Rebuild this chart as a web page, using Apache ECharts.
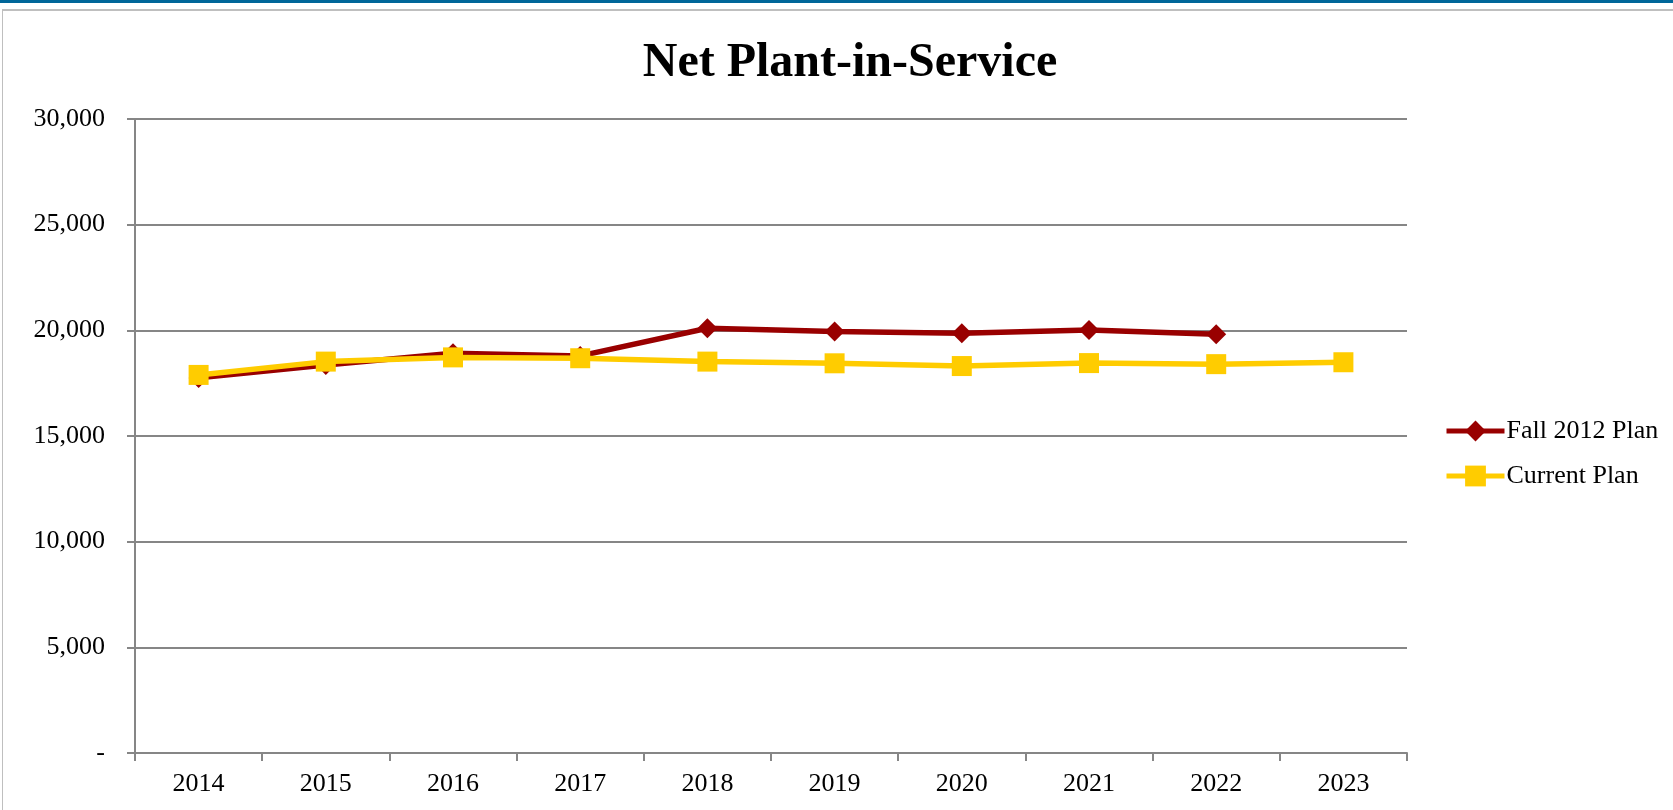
<!DOCTYPE html>
<html><head><meta charset="utf-8">
<script src="https://cdn.jsdelivr.net/npm/echarts@6/dist/echarts.min.js"></script>
<style>html,body{margin:0;padding:0;background:#fff}#c{width:1673px;height:810px}</style>
</head><body><div id="c"></div>
<script>
const categories = ['2014','2015','2016','2017','2018','2019','2020','2021','2022','2023'];
const fall2012 = [17750, 18360, 18920, 18790, 20100, 19940, 19860, 20010, 19810, null];
const current = [17890, 18520, 18720, 18680, 18520, 18440, 18310, 18450, 18400, 18490];
const yTicks = [0, 5000, 10000, 15000, 20000, 25000, 30000];

const chart = echarts.init(document.getElementById('c'));
const font = '"Liberation Serif", "Times New Roman", serif';
chart.setOption({
  animation: false,
  backgroundColor: '#fff',
  graphic: [
    {type:'rect', shape:{x:0,y:0,width:1673,height:3}, style:{fill:'#006699'}},
    {type:'rect', shape:{x:2,y:9,width:1671,height:2}, style:{fill:'#bfbfbf'}},
    {type:'rect', shape:{x:2,y:9,width:1,height:801}, style:{fill:'#bfbfbf'}}
  ],
  title: {
    text: 'Net Plant-in-Service', left: 845, top: 35, textAlign: 'center',
    textStyle: {fontFamily: font, fontSize: 48, fontWeight: 'bold', color: '#000'}
  },
  legend: {
    orient: 'vertical', left: 1439, top: 413, itemGap: 19, itemWidth: 58, itemHeight: 26,
    lineStyle: {width: 5},
    textStyle: {fontFamily: font, fontSize: 26, color: '#000', padding:[0,0,0,-3]},
    data: ['Fall 2012 Plan', 'Current Plan']
  },
  grid: {left: 135, top: 119, right: 266, bottom: 57},
  xAxis: {
    type: 'category', data: categories, boundaryGap: true,
    axisLine: {lineStyle: {color: '#868686', width: 2}},
    axisTick: {show: true, length: 8, lineStyle: {color: '#868686', width: 2}},
    axisLabel: {fontFamily: font, fontSize: 26, color: '#000', margin: 18}
  },
  yAxis: {
    type: 'value', min: 0, max: 30000, interval: 5000,
    axisLine: {show: true, lineStyle: {color: '#868686', width: 2}},
    axisTick: {show: true, length: 8, lineStyle: {color: '#868686', width: 2}},
    splitLine: {lineStyle: {color: '#868686', width: 2}},
    axisLabel: {fontFamily: font, fontSize: 26, color: '#000', margin: 30,
      formatter: v => v === 0 ? '-' : v.toLocaleString('en-US')}
  },
  series: [
    {name: 'Fall 2012 Plan', type: 'line', data: fall2012, symbol: 'diamond', symbolSize: 20,
     lineStyle: {color: '#990000', width: 5.5}, itemStyle: {color: '#990000'}, z: 2},
    {name: 'Current Plan', type: 'line', data: current, symbol: 'rect', symbolSize: 20,
     lineStyle: {color: '#ffcc00', width: 5.5}, itemStyle: {color: '#ffcc00'}, z: 3}
  ]
});
</script></body></html>
